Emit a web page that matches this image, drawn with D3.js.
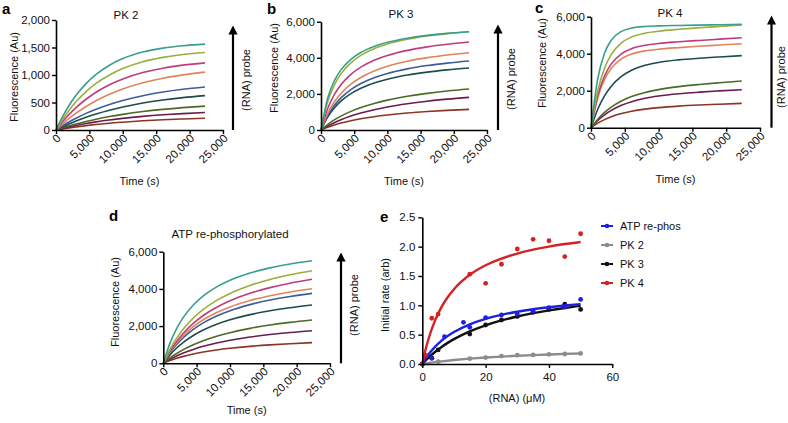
<!DOCTYPE html>
<html><head><meta charset="utf-8">
<script src="https://cdn.jsdelivr.net/npm/d3@7"></script>
<style>
html,body{margin:0;padding:0;background:#fff;}
svg{display:block;font-family:"Liberation Sans",Arial,Helvetica,sans-serif;}
</style></head>
<body><svg id="c" width="788" height="423"></svg>
<script>
// ---------- data ----------
const times = [0,1000,2000,3000,4500,6000,8000,10000,13000,16000,19000,22300];
const curveColors = ["#3a9e8c","#9aae3c","#c03c7c","#e0845c","#3c5c9c","#1c4c4c","#4c6a24","#6c1c4c","#8c3424"];
const timeTicks = [0,5000,10000,15000,20000,25000];

const pk2 = [
  [0,246,454,630,844,1011,1178,1298,1417,1489,1533,1561],
  [0,196,365,512,697,846,1001,1118,1241,1320,1373,1409],
  [0,153,288,407,559,686,822,928,1044,1124,1179,1220],
  [0,112,214,306,428,532,650,746,858,942,1003,1053],
  [0,78,150,215,302,378,465,537,624,690,740,781],
  [0,59,114,164,231,291,360,418,490,545,588,625],
  [0,39,76,109,155,196,244,284,335,375,407,435],
  [0,30,58,83,117,148,182,212,248,276,298,317],
  [0,20,39,56,79,99,123,142,167,186,200,213]
];
const pk3 = [
  [0,1757,2722,3333,3918,4296,4630,4857,5087,5242,5354,5446],
  [0,1559,2490,3107,3723,4133,4505,4762,5026,5207,5338,5447],
  [0,1179,1955,2504,3081,3482,3859,4127,4410,4607,4752,4874],
  [0,913,1552,2025,2541,2912,3270,3530,3811,4010,4158,4283],
  [0,796,1360,1779,2240,2574,2897,3133,3388,3570,3706,3821],
  [0,715,1222,1599,2013,2313,2603,2816,3044,3208,3330,3433],
  [0,304,557,769,1032,1245,1473,1654,1866,2029,2158,2271],
  [0,219,406,567,771,940,1125,1276,1455,1596,1708,1809],
  [0,151,277,384,516,623,738,830,938,1021,1087,1145]
];
const pk4 = [
  [0,2658,4025,4731,5206,5386,5472,5503,5527,5546,5564,5584],
  [0,1993,3211,3960,4586,4901,5109,5217,5318,5399,5475,5558],
  [0,1735,2796,3449,3996,4271,4454,4551,4642,4717,4787,4863],
  [0,1616,2604,3212,3722,3980,4152,4243,4330,4401,4468,4541],
  [0,998,1719,2241,2770,3103,3370,3527,3665,3753,3824,3894],
  [0,461,825,1114,1443,1680,1903,2058,2219,2334,2428,2521],
  [0,389,695,937,1212,1407,1589,1712,1836,1921,1988,2053],
  [0,244,437,590,763,888,1004,1084,1165,1223,1269,1314]
];
const pk4Colors = ["#3a9e8c","#9aae3c","#c03c7c","#e0845c","#1c4c50","#4c6a24","#6c1c4c","#8c3424"];
const atp = [
  [0,1083,1870,2467,3135,3625,4107,4463,4851,5130,5340,5518],
  [0,751,1352,1843,2434,2898,3381,3757,4187,4510,4760,4979],
  [0,652,1180,1618,2149,2571,3015,3363,3765,4069,4307,4515],
  [0,607,1093,1490,1966,2339,2728,3030,3376,3634,3836,4011],
  [0,560,1010,1379,1824,2175,2542,2828,3155,3402,3594,3761],
  [0,454,822,1126,1495,1788,2096,2337,2616,2826,2990,3134],
  [0,285,527,735,998,1216,1453,1646,1876,2056,2200,2328],
  [0,213,394,550,748,912,1091,1237,1411,1547,1657,1754],
  [0,147,269,372,500,604,716,805,910,991,1055,1111]
];

// panel e
const rnaTicks = [0,20,40,60];
const rateTicks = [0,0.5,1.0,1.5,2.0,2.5];
const fitX = [0,1,2,4,6,8,10,15,20,25,30,35,40,45,50];
const fitATP = [0,0.088,0.165,0.292,0.394,0.477,0.546,0.677,0.770,0.838,0.891,0.933,0.967,0.996,1.020];
const fitPK2 = [0,0.008,0.016,0.031,0.044,0.056,0.067,0.091,0.110,0.126,0.140,0.152,0.163,0.172,0.180];
const fitPK3 = [0,0.057,0.110,0.205,0.287,0.360,0.424,0.557,0.660,0.743,0.810,0.866,0.914,0.955,0.990];
const fitPK4 = [0,0.238,0.435,0.739,0.964,1.138,1.275,1.520,1.682,1.796,1.882,1.948,2.001,2.044,2.080];
const ptsATPx = [0,3,7,13,15,20,25,30,35,40,45,50];
const ptsATPy = [0,0.10,0.465,0.71,0.625,0.79,0.835,0.85,0.90,0.96,0.97,1.10];
const ptsPK2x = [0,5,15,20,25,30,35,40,45,50];
const ptsPK2y = [0,0.04,0.09,0.11,0.135,0.15,0.155,0.165,0.17,0.18];
const ptsPK3x = [0,3,5,15,20,25,30,35,40,45,50];
const ptsPK3y = [0,0.10,0.24,0.51,0.665,0.75,0.81,0.88,0.93,1.02,0.93];
const ptsPK4x = [0,1,3,5,15,20,25,30,35,40,45,50];
const ptsPK4y = [0,0.15,0.78,0.85,1.53,1.375,1.70,1.96,2.125,2.10,1.83,2.22];
const legendNames = ["ATP re-phos","PK 2","PK 3","PK 4"];
const eColors = ["#1f1fe0","#8c8c8c","#111111","#d42222"];

// ---------- drawing ----------
const svg = d3.select("#c");
const defs = svg.append("defs");
defs.append("marker").attr("id","ah").attr("viewBox","0 0 10 10").attr("refX",5).attr("refY",5)
  .attr("markerWidth",4.2).attr("markerHeight",4.2).attr("orient","auto")
  .append("path").attr("d","M0,0 L10,5 L0,10 Z").attr("fill","#000");

function styleAxis(g){
  g.select(".domain").attr("stroke","#000").attr("stroke-width",1.6);
  g.selectAll(".tick line").attr("stroke","#000").attr("stroke-width",1.4);
  g.selectAll(".tick text").attr("fill","#111").style("font-size","11.5px");
}

function kinetics(cfg){
  const x = d3.scaleLinear().domain([0,25000]).range([cfg.x0,cfg.x1]);
  const y = d3.scaleLinear().domain([0,cfg.ymax]).range([cfg.y0,cfg.y1]);
  const line = d3.line().x((d,i)=>x(times[i])).y(d=>y(d)).curve(d3.curveMonotoneX);
  cfg.data.slice().reverse().forEach((s,ri)=>{
    const i = cfg.data.length-1-ri;
    svg.append("path").attr("d",line(s)).attr("fill","none")
      .attr("stroke",cfg.colors[i]).attr("stroke-width",1.6);
  });
  const gy = svg.append("g").attr("transform",`translate(${cfg.x0},0)`)
    .call(d3.axisLeft(y).tickValues(cfg.yticks).tickFormat(d3.format(",")).tickSize(4).tickSizeOuter(0).tickPadding(2));
  styleAxis(gy);
  const gx = svg.append("g").attr("transform",`translate(0,${cfg.y0})`)
    .call(d3.axisBottom(x).tickValues(timeTicks).tickFormat(d3.format(",")).tickSize(4).tickSizeOuter(0));
  styleAxis(gx);
  gx.selectAll(".tick text").attr("text-anchor","end").attr("dy",0).attr("y",0)
    .attr("transform","translate(5,9) rotate(-45)");
  // titles
  svg.append("text").attr("x",cfg.tx).attr("y",cfg.ty).attr("text-anchor","middle")
    .style("font-size","11.5px").attr("fill","#111").text(cfg.title);
  svg.append("text").attr("x",cfg.lx).attr("y",cfg.ly).style("font-size","15px")
    .style("font-weight","bold").attr("fill","#000").text(cfg.letter);
  svg.append("text").attr("transform",`translate(${cfg.ylx},${cfg.yly}) rotate(-90)`)
    .attr("text-anchor","middle").attr("dy","0.35em").style("font-size","11px").attr("fill","#111")
    .text("Fluorescence (Au)");
  svg.append("text").attr("x",(cfg.x0+cfg.x1)/2).attr("y",cfg.xty).attr("text-anchor","middle")
    .style("font-size","11px").attr("fill","#111").text("Time (s)");
  // arrow
  svg.append("line").attr("x1",cfg.ax).attr("x2",cfg.ax).attr("y1",cfg.y0).attr("y2",cfg.aTop+4)
    .attr("stroke","#000").attr("stroke-width",2.2).attr("marker-end","url(#ah)");
  svg.append("text").attr("transform",`translate(${cfg.ax+cfg.aoff},${cfg.aly}) rotate(-90)`)
    .attr("text-anchor","middle").attr("dy","0.35em").style("font-size","11px").attr("fill","#111")
    .text("(RNA) probe");
}

kinetics({data:pk2,colors:curveColors,ymax:2000,yticks:[0,500,1000,1500,2000],
  x0:56,x1:223,y0:130,y1:20,title:"PK 2",tx:126,ty:19,letter:"a",lx:2,ly:14,
  ylx:14,yly:77,xty:185,ax:233,aTop:26,aly:80,aoff:13});
kinetics({data:pk3,colors:curveColors,ymax:6000,yticks:[0,2000,4000,6000],
  x0:321,x1:487,y0:130,y1:21.7,title:"PK 3",tx:401,ty:18,letter:"b",lx:267,ly:14,
  ylx:274,yly:68,xty:185,ax:498,aTop:25,aly:79,aoff:13});
kinetics({data:pk4,colors:pk4Colors,ymax:6000,yticks:[0,2000,4000,6000],
  x0:591,x1:760,y0:127.7,y1:16.7,title:"PK 4",tx:670,ty:17,letter:"c",lx:535,ly:13,
  ylx:542,yly:63,xty:183,ax:771.5,aTop:16,aly:77,aoff:10});
kinetics({data:atp,colors:curveColors,ymax:6000,yticks:[0,2000,4000,6000],
  x0:163.3,x1:330,y0:363.3,y1:251.7,title:"ATP re-phosphorylated",tx:230,ty:238,letter:"d",lx:109,ly:221,
  ylx:115,yly:302,xty:414,ax:341,aTop:253,aly:305,aoff:13});

// panel e
(function(){
  const x = d3.scaleLinear().domain([0,60]).range([422.3,612.3]);
  const y = d3.scaleLinear().domain([0,2.5]).range([364,217.3]);
  const line = d3.line().x((d,i)=>x(fitX[i])).y(d=>y(d)).curve(d3.curveMonotoneX);
  const fits = [fitPK2,fitPK3,fitATP,fitPK4];
  const fc = [eColors[1],eColors[2],eColors[0],eColors[3]];
  const px = [ptsPK2x,ptsPK3x,ptsATPx,ptsPK4x];
  const py = [ptsPK2y,ptsPK3y,ptsATPy,ptsPK4y];
  fits.forEach((f,k)=>{
    px[k].forEach((xv,j)=>{
      svg.append("circle").attr("cx",x(xv)).attr("cy",y(py[k][j])).attr("r",2.4).attr("fill",fc[k]);
    });
    svg.append("path").attr("d",line(f)).attr("fill","none").attr("stroke",fc[k]).attr("stroke-width",2.4);
  });
  const gy = svg.append("g").attr("transform","translate(422.3,0)")
    .call(d3.axisLeft(y).tickValues(rateTicks).tickFormat(d3.format(".1f")).tickSize(4).tickSizeOuter(0).tickPadding(3));
  styleAxis(gy);
  const gx = svg.append("g").attr("transform","translate(0,364)")
    .call(d3.axisBottom(x).tickValues(rnaTicks).tickSize(4).tickSizeOuter(0).tickPadding(5));
  styleAxis(gx);
  svg.append("text").attr("x",380).attr("y",222).style("font-size","15px").style("font-weight","bold").text("e");
  svg.append("text").attr("transform","translate(385,295) rotate(-90)").attr("text-anchor","middle")
    .attr("dy","0.35em").style("font-size","11px").attr("fill","#111").text("Initial rate (arb)");
  svg.append("text").attr("x",517).attr("y",402).attr("text-anchor","middle").style("font-size","11px")
    .attr("fill","#111").text("(RNA) (μM)");
  legendNames.forEach((n,i)=>{
    const yy = 226 + i*19;
    svg.append("line").attr("x1",601).attr("x2",613).attr("y1",yy).attr("y2",yy)
      .attr("stroke",eColors[i]).attr("stroke-width",2);
    svg.append("circle").attr("cx",607).attr("cy",yy).attr("r",2.3).attr("fill",eColors[i]);
    svg.append("text").attr("x",620).attr("y",yy).attr("dy","0.35em").style("font-size","11px")
      .attr("fill","#111").text(n);
  });
})();
</script></body></html>
